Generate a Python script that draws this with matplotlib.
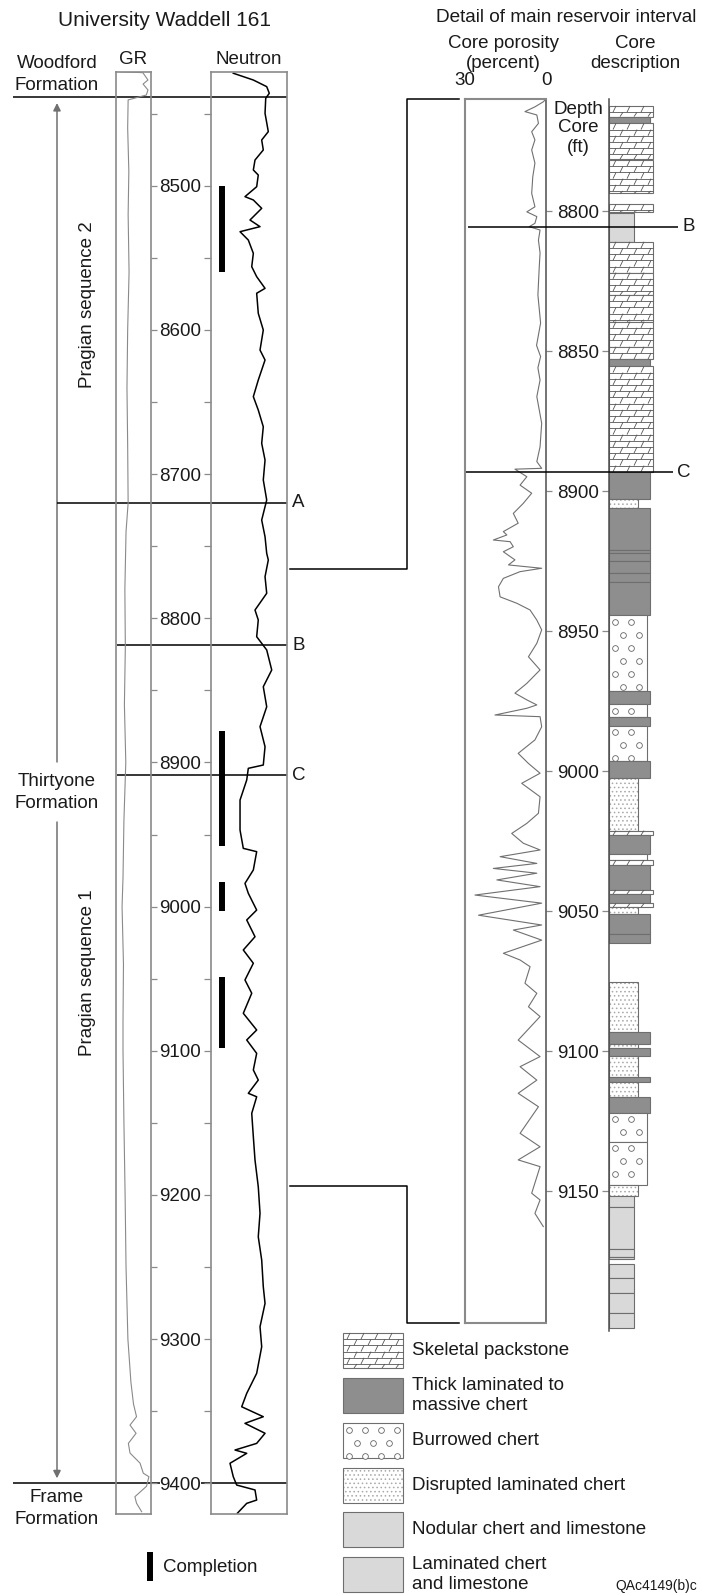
import numpy as np
import matplotlib
matplotlib.use('Agg')
import matplotlib.pyplot as plt
from matplotlib.patches import Rectangle
from matplotlib.collections import LineCollection

plt.rcParams['font.family'] = ['Liberation Sans', 'DejaVu Sans']
plt.rcParams['font.size'] = 13.5
plt.rcParams['hatch.linewidth'] = 0.6

# ---------------- University Waddell 161 logs (log depth, ft) ----------------
gr_depth = [8421, 8421.6, 8426.7, 8429.5, 8433.6, 8437.1, 8439.5, 8440.5, 8460, 8490,
            8520, 8560, 8600, 8640, 8680, 8720, 8740, 8780, 8820, 8860,
            8900, 8940, 8980, 9000, 9040, 9080, 9100, 9150, 9200, 9250,
            9300, 9330, 9345, 9353.8, 9359.6, 9365.3, 9372.3, 9379, 9386, 9393,
            9395.4, 9402, 9409.3, 9413.8, 9419.7]
gr_api = [20, 115, 137, 116, 137, 130, 75, 52, 50, 55,
          52, 56, 50, 47, 50, 52, 43, 38, 40, 36,
          42, 34, 30, 26, 32, 30, 30, 34, 39, 43,
          51, 64, 75, 88, 60, 86, 53, 60, 103, 117,
          141, 131, 81, 88, 110]

nphi_depth = [8422, 8426.7, 8431.3, 8435.9, 8439.4, 8449.8, 8462.5, 8468.3, 8475.2, 8482.2,
              8489.1, 8492.6, 8500.7, 8507.6, 8509.9, 8515.7, 8523.8, 8528.4, 8531.9, 8537.7,
              8546.9, 8556.2, 8563.1, 8571.2, 8574.6, 8588.5, 8600.1, 8614, 8620.9, 8634.8,
              8646.3, 8655.6, 8667.2, 8678.7, 8690.3, 8704.1, 8718, 8731.9, 8743.5, 8755,
              8759.6, 8771.2, 8782.7, 8794.3, 8801.2, 8812.8, 8822, 8835.9, 8847.5, 8861.4,
              8875.2, 8889.1, 8901.8, 8904.1, 8912.2, 8926.1, 8946.9, 8959.6, 8961.9, 8974.6,
              8983.9, 8990.8, 9002.4, 9009.3, 9020.9, 9030.1, 9039.3, 9050.9, 9060.1, 9074,
              9085.6, 9092.5, 9101.8, 9113.3, 9120.3, 9129.5, 9131.9, 9143.4, 9159.6, 9175.8,
              9194.3, 9212.7, 9229, 9245.1, 9263.7, 9275.2, 9291.4, 9305.3, 9323.7, 9337.6,
              9346.9, 9353.8, 9358.4, 9365.3, 9372.3, 9376.9, 9379.2, 9386.1, 9395.4, 9401.2,
              9404.6, 9411.6, 9413.9, 9420.8]
nphi = [29.3, 55.7, 73.3, 76.7, 72.0, 71.1, 75.4, 66.7, 68.8, 57.9,
        55.7, 62.2, 60.1, 44.7, 55.7, 66.7, 51.3, 64.5, 38.2, 49.1,
        55.7, 53.6, 60.1, 71.1, 60.1, 62.2, 68.8, 64.5, 71.1, 62.2,
        55.7, 62.2, 68.8, 66.7, 71.1, 68.8, 73.3, 66.7, 71.1, 73.3,
        75.4, 71.1, 73.3, 57.9, 62.2, 60.1, 73.3, 79.9, 68.8, 73.3,
        64.5, 71.1, 68.8, 49.1, 47.0, 38.2, 38.2, 42.5, 60.1, 55.7,
        44.7, 49.1, 60.1, 47.0, 57.9, 42.5, 55.7, 44.7, 53.6, 42.5,
        60.1, 47.0, 60.1, 55.7, 62.2, 49.1, 60.1, 53.6, 55.7, 57.9,
        62.2, 64.5, 62.2, 66.7, 68.8, 71.1, 64.5, 66.7, 60.1, 47.0,
        40.4, 68.8, 44.7, 71.1, 60.1, 31.6, 47.0, 25.0, 29.3, 33.8,
        57.9, 60.1, 47.0, 34.6]

comp_top = [8500, 8878, 8983, 9049]
comp_base = [8560, 8958, 9003, 9098]

woodford_base = 8438.5
frame_top = 9400
surf_names = ['A', 'B', 'C']
surf_log = [8720, 8818.7, 8909]

# ---------------- core (core depth, ft) ----------------
por_depth = [8760.5, 8761, 8762.8, 8764.5, 8765.7, 8768.7, 8771.7, 8774.6, 8778.2, 8782.9,
             8787.8, 8793.7, 8798.5, 8800.3, 8802, 8804.4, 8805.6, 8806.8, 8810.4, 8815,
             8820, 8830, 8840, 8848, 8852, 8856, 8860.4, 8866.3, 8875.8, 8884.2,
             8889.5, 8891.9,
             8892.2, 8894.9, 8897.9, 8900.8, 8904.4, 8908.0, 8911.5, 8914.5, 8915.7, 8917.5,
             8918.1, 8919.9, 8921.7, 8924.6, 8926.4, 8927.6, 8928.8, 8931.2, 8934.2, 8937.8,
             8940.1, 8942.5, 8946.1, 8949.6, 8954.4, 8959.2, 8963.9, 8968.7, 8972.2, 8974.6,
             8976.4, 8977.6, 8980.0, 8980.6, 8984.2, 8988.9, 8993.7, 8997.3, 9000.8, 9004.4,
             9009.2, 9015.1, 9018.7, 9022.3, 9025.8, 9028.2, 9030.6, 9033.0, 9034.8, 9036.5,
             9038.9, 9041.3, 9044.3, 9047.2, 9051.5, 9055.0,
             9056.8, 9060.4, 9065.1, 9067.5, 9069.9, 9075.8, 9079.4, 9084.2, 9087.7, 9096.1,
             9102, 9105.6, 9110.4, 9115.1, 9119.9, 9129.4, 9134.2, 9138.9, 9141.3, 9150.8,
             9153.2, 9158, 9162.7]
por_pct = [0.5, 1.0, 4.1, 7.8, 3.4, 2.8, 5.3, 4.1, 5.3, 4.1,
           4.9, 5.3, 4.1, 7.1, 3.4, 4.1, 6.2, 2.2, 2.8, 2.2,
           2.5, 3.0, 2.0, 3.5, 2.0, 3.0, 2.2, 3.4, 1.6, 2.2,
           3.4, 1.6,
           11.5, 7.1, 9.6, 5.3, 8.4, 12.1, 10.3, 15.8, 14.5, 19.5,
           13.3, 12.1, 15.8, 11.5, 13.9, 1.6, 9.6, 15.8, 17.6, 17.0,
           10.8, 5.9, 3.4, 1.6, 3.4, 6.5, 2.2, 7.1, 11.5, 7.1,
           3.4, 7.1, 18.9, 2.2, 1.6, 4.1, 10.3, 6.5, 2.2, 9.0,
           2.2, 2.8, 7.1, 12.7, 8.4, 2.2, 17.0, 3.4, 19.5, 3.4,
           18.2, 2.2, 26.3, 1.6, 25.0, 1.6,
           12.1, 1.6, 15.8, 9.6, 5.9, 7.8, 3.4, 6.5, 2.2, 10.3,
           2.2, 9.6, 3.4, 10.3, 2.8, 9.6, 2.2, 10.3, 2.2, 5.3,
           2.2, 4.1, 1.0]

core_top = [8762.5, 8766.3, 8768.7, 8781.8, 8797.6, 8800.7, 8811, 8822, 8830, 8839.5,
            8848.5, 8853, 8855.5, 8893.3, 8903, 8906.2, 8921, 8922.2, 8924.9, 8929.2,
            8932.4, 8944.3, 8971.3, 8976.2, 8980.8, 8983.9, 8996.3, 9002.6, 9021.3, 9022.9,
            9029.6, 9031.8, 9033.6, 9042.5, 9043.9, 9047.3, 9048.7, 9051.2, 9058.3, 9075.2,
            9093.1, 9097.6, 9099.0, 9101.8, 9109.2, 9111.2, 9116.3, 9122.0, 9132.4, 9147.9,
            9151.8, 9155.6, 9170.8, 9173.5, 9176, 9181, 9186.5, 9193.5]
core_base = [8766.3, 8768.7, 8781.5, 8793.7, 8800.2, 8811, 8822, 8830, 8839.5, 8848.5,
             8853, 8855.5, 8893.3, 8903, 8906.2, 8921, 8922.2, 8924.9, 8929.2, 8932.4,
             8944.3, 8971.3, 8976.2, 8980.8, 8983.9, 8996.3, 9002.6, 9021.3, 9022.9, 9029.6,
             9031.8, 9033.6, 9042.5, 9043.9, 9047.0, 9048.7, 9051.2, 9058.3, 9061.5, 9093.1,
             9097.6, 9099.0, 9101.8, 9109.2, 9111.2, 9116.3, 9122.0, 9132.4, 9147.9, 9151.8,
             9155.6, 9170.8, 9173.5, 9174.2, 9181, 9186.5, 9193.5, 9199]
core_lith = ['packstone', 'chert', 'packstone', 'packstone', 'packstone', 'nodular', 'packstone',
             'packstone', 'packstone', 'packstone', 'packstone', 'chert', 'packstone', 'chert',
             'disrupted', 'chert', 'chert', 'chert', 'chert', 'chert', 'chert', 'burrowed',
             'chert', 'burrowed', 'chert', 'burrowed', 'chert', 'disrupted', 'packstone', 'chert',
             'burrowed', 'packstone', 'chert', 'packstone', 'chert', 'packstone', 'disrupted',
             'chert', 'chert', 'disrupted', 'chert', 'disrupted', 'chert', 'disrupted', 'chert',
             'disrupted', 'chert', 'burrowed', 'burrowed', 'disrupted', 'nodular', 'nodular',
             'nodular', 'nodular', 'laminated', 'laminated', 'laminated', 'laminated']

core_surf_names = ['B', 'C']
core_surf = [8805.6, 8893.3]
detail_log = [8766, 9194]
detail_core = [8760, 9197]

legend_lith = ['packstone', 'chert', 'burrowed', 'disrupted', 'nodular', 'laminated']
legend_text = [['Skeletal packstone'], ['Thick laminated to', 'massive chert'], ['Burrowed chert'],
               ['Disrupted laminated chert'], ['Nodular chert and limestone'],
               ['Laminated chert', 'and limestone']]

# ---------------- styling ----------------
FILL = {'packstone': 'white', 'chert': '#8e8e8e', 'burrowed': 'white',
        'disrupted': 'white', 'nodular': '#d9d9d9', 'laminated': '#d9d9d9'}
COL_W = {'packstone': 44, 'chert': 41, 'burrowed': 38, 'disrupted': 29,
         'nodular': 25, 'laminated': 25}
BOX = '#8a8a8a'
EDGE = '#6e6e6e'
INK = '#1a1a1a'

W, H = 702, 1595
fig = plt.figure(figsize=(W / 100, H / 100), dpi=100)


def add_px_axes(x0, x1, y0, y1):
    return fig.add_axes([x0 / W, 1 - y1 / H, (x1 - x0) / W, (y1 - y0) / H])


def yl(d):
    # vertical position (px from top) on the log panel
    return 185.7 + (d - 8500) * 1.4418


def yr(d):
    # vertical position (px from top) on the core panel
    return 211.0 + (d - 8800) * 2.8


def draw_unit(ax, x0, x1, top, base, lith, ypx):
    """One lithology box; ypx = pixels per y unit of ax."""
    h = base - top
    if lith == 'disrupted':
        ax.add_patch(Rectangle((x0, top), x1 - x0, h, facecolor='white',
                               edgecolor='#a8a8a8', hatch='....', lw=0))
        ax.add_patch(Rectangle((x0, top), x1 - x0, h, fill=False, edgecolor=EDGE, lw=0.8))
    else:
        ax.add_patch(Rectangle((x0, top), x1 - x0, h, facecolor=FILL[lith],
                               edgecolor=EDGE, lw=0.8))
    if lith == 'packstone':
        row = 6.2 / ypx
        segs = []
        for k, yy in enumerate(np.arange(top, base - 0.5 / ypx, row)):
            y2 = min(yy + row, base)
            if k > 0:
                segs.append([(x0, yy), (x1, yy)])
            for xx in np.arange(x0 + 4 + (k % 2) * 7, x1 - 3, 14):
                segs.append([(xx, y2), (xx + 3, yy)])
        ax.add_collection(LineCollection(segs, colors='#555555', linewidths=0.6))
    elif lith == 'burrowed':
        row = 13 / ypx
        xs, ys = [], []
        for k, yy in enumerate(np.arange(top + row * 0.5, base - 2 / ypx, row)):
            for xx in np.arange(x0 + 6 + (k % 2) * 8, x1 - 3, 16):
                xs.append(xx)
                ys.append(yy)
        ax.scatter(xs, ys, s=17, marker='o', facecolors='white',
                   edgecolors='#666666', linewidths=0.6, zorder=3)


# full-figure layer for headings, connectors and the legend
axF = add_px_axes(0, W, 0, H)
axF.set_xlim(0, W)
axF.set_ylim(H, 0)
axF.axis('off')
axF.set_zorder(0)

LOG_TOP, LOG_BASE = 8421, 9421.5
CORE_TOP, POR_BASE, CORE_BASE = 8760, 9197, 9200

# ---------------- left panel: GR and neutron ----------------
axL = add_px_axes(0, 300, yl(LOG_TOP), yl(LOG_BASE))
axL.set_xlim(0, 300)
axL.set_ylim(LOG_BASE, LOG_TOP)
axL.axis('off')
axL.set_zorder(1)

axGR = add_px_axes(116, 151, yl(LOG_TOP), yl(LOG_BASE))
axNT = add_px_axes(211, 287, yl(LOG_TOP), yl(LOG_BASE))
for ax in (axGR, axNT):
    ax.set_zorder(2)
    ax.set_facecolor('none')
    ax.set_ylim(LOG_BASE, LOG_TOP)
    ax.set_xticks([])
    for s in ax.spines.values():
        s.set_color(BOX)
        s.set_linewidth(1.2)

axGR.set_xlim(0, 150)
axGR.plot(gr_api, gr_depth, color='#8a8a8a', lw=0.8)
axGR.yaxis.tick_right()
axGR.set_yticks(np.arange(8450, 9401, 50))
axGR.tick_params(axis='y', direction='out', length=4.5, width=0.9, color=BOX,
                 labelright=False, labelleft=False)

axNT.set_xlim(0, 100)
axNT.plot(nphi, nphi_depth, color='black', lw=1.1)
axNT.vlines([14.5] * len(comp_top), comp_top, comp_base, color='black', lw=4.3,
            capstyle='butt')
axNT.set_yticks(np.arange(8500, 9401, 100))
axNT.set_yticks(np.arange(8450, 9400, 100), minor=True)
axNT.tick_params(axis='y', which='both', direction='out', length=5, width=0.9,
                 color=BOX, pad=2, labelcolor=INK, labelsize=13.5)
for t in axNT.yaxis.get_major_ticks():
    t.label1.set_bbox(dict(facecolor='white', edgecolor='none', pad=0))

axL.hlines([woodford_base, frame_top], 13, 287, color='black', lw=1.1)
surf_x0 = [57, 117, 117]
for name, d, x0 in zip(surf_names, surf_log, surf_x0):
    axL.hlines(d, x0, 287, color='black', lw=1.1)
    axL.text(292, d, name, ha='left', va='center', color=INK)

# sequence arrow, broken around the formation name
arrow_kw = dict(arrowstyle='-|>', color='#707070', lw=1.1, mutation_scale=11,
                shrinkA=0, shrinkB=0)
axF.annotate('', xy=(57, yl(woodford_base) + 6), xytext=(57, 762), arrowprops=arrow_kw)
axF.annotate('', xy=(57, yl(frame_top) - 5), xytext=(57, 822), arrowprops=arrow_kw)

axF.text(165, 20, 'University Waddell 161', ha='center', va='center', fontsize=15, color=INK)
axF.text(57, 63, 'Woodford', ha='center', va='center', color=INK)
axF.text(57, 86, 'Formation', ha='center', va='center', color=INK)
axF.text(133, 60, 'GR', ha='center', va='center', color=INK)
axF.text(249, 60, 'Neutron', ha='center', va='center', color=INK)
axF.text(88, 305, 'Pragian sequence 2', rotation=90, ha='center', va='center', color=INK)
axF.text(88, 973, 'Pragian sequence 1', rotation=90, ha='center', va='center', color=INK)
axF.text(57, 781, 'Thirtyone', ha='center', va='center', color=INK)
axF.text(57, 803, 'Formation', ha='center', va='center', color=INK)
axF.text(57, 1498, 'Frame', ha='center', va='center', color=INK)
axF.text(57, 1520, 'Formation', ha='center', va='center', color=INK)
axF.plot([149.5, 149.5], [1552, 1581], color='black', lw=4.3, solid_capstyle='butt')
axF.text(163, 1567, 'Completion', ha='left', va='center', color=INK)

# ---------------- right panel: core porosity and description ----------------
axP = add_px_axes(465, 546, yr(CORE_TOP), yr(POR_BASE))
axP.set_xlim(30, 0)
axP.set_ylim(POR_BASE, CORE_TOP)
axP.plot(por_pct, por_depth, color='#707070', lw=0.8)
axP.xaxis.tick_top()
axP.set_xticks([30, 0])
axP.tick_params(axis='x', length=0, pad=7, labelcolor=INK, labelsize=13.5)
axP.yaxis.tick_right()
axP.set_yticks(np.arange(8800, 9151, 50))
axP.tick_params(axis='y', direction='out', length=4.5, width=0.9, color=BOX,
                labelright=False, labelleft=False)
for side in ('left', 'top', 'bottom'):
    axP.spines[side].set_color(BOX)
    axP.spines[side].set_linewidth(1.5)
axP.spines['right'].set_color('#4d4d4d')
axP.spines['right'].set_linewidth(1.1)

axC = add_px_axes(609, 660, yr(CORE_TOP), yr(CORE_BASE))
axC.set_xlim(0, 51)
axC.set_ylim(CORE_BASE, CORE_TOP)
axC.set_facecolor('none')
for side in ('right', 'top', 'bottom'):
    axC.spines[side].set_visible(False)
axC.spines['left'].set_color('#4d4d4d')
axC.spines['left'].set_linewidth(1.1)
axC.set_xticks([])
axC.set_yticks(np.arange(8800, 9151, 50))
axC.tick_params(axis='y', direction='out', length=5, width=0.9, color=BOX, pad=2,
                labelcolor=INK, labelsize=13.5)
for t, b, lith in zip(core_top, core_base, core_lith):
    draw_unit(axC, 0, COL_W[lith], t, b, lith, 2.8)

axR = add_px_axes(440, W, yr(CORE_TOP), yr(CORE_BASE))
axR.set_xlim(440, W)
axR.set_ylim(CORE_BASE, CORE_TOP)
axR.axis('off')
axR.set_zorder(3)
for name, d, x0, x1 in zip(core_surf_names, core_surf, [468, 466], [678, 673]):
    axR.hlines(d, x0, x1, color='black', lw=1.1)
    axR.text(x1 + 4, d, name, ha='left', va='center', color=INK)

axF.text(566, 18, 'Detail of main reservoir interval', ha='center', va='center',
         fontsize=13.7, color=INK)
axF.text(503, 43, 'Core porosity', ha='center', va='center', color=INK)
axF.text(503, 63, '(percent)', ha='center', va='center', color=INK)
axF.text(635, 43, 'Core', ha='center', va='center', color=INK)
axF.text(635, 63, 'description', ha='center', va='center', color=INK)
axF.text(578, 110, 'Depth', ha='center', va='center', color=INK)
axF.text(578, 128, 'Core', ha='center', va='center', color=INK)
axF.text(578, 147, '(ft)', ha='center', va='center', color=INK)

# connectors from the log interval to the cored detail
for dl, dc in zip(detail_log, detail_core):
    axF.plot([290, 407, 407, 459], [yl(dl), yl(dl), yr(dc), yr(dc)],
             color='black', lw=1.1)

# ---------------- lithology legend ----------------
sw_top = [1333, 1378, 1423, 1468, 1512, 1557]
for top, lith, lines in zip(sw_top, legend_lith, legend_text):
    draw_unit(axF, 343, 403, top, top + 35, lith, 1.0)
    n = len(lines)
    for i, s in enumerate(lines):
        axF.text(412, top + 17.5 + (i - (n - 1) / 2) * 19.5, s, ha='left',
                 va='center', color=INK)
axF.text(697, 1586, 'QAc4149(b)c', ha='right', va='center', fontsize=10, color=INK)

fig.savefig('out.png', dpi=100)
